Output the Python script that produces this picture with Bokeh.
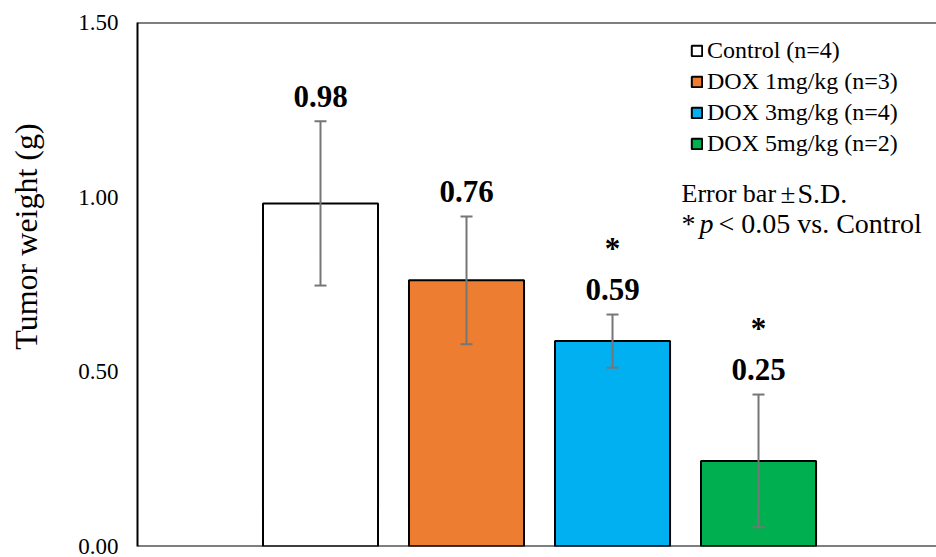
from bokeh.plotting import figure
from bokeh.models import (ColumnDataSource, Whisker, TeeHead, FixedTicker,
                          PrintfTickFormatter, Legend, LegendItem, Span, Label, Range1d)
from bokeh.core.properties import value
from bokeh.embed import file_html
from bokeh.resources import INLINE

# ---- data ----
groups = ["Control (n=4)", "DOX 1mg/kg (n=3)", "DOX 3mg/kg (n=4)", "DOX 5mg/kg (n=2)"]
means = [0.982, 0.762, 0.588, 0.245]
sds = [0.235, 0.183, 0.076, 0.190]
value_labels = ["0.98", "0.76", "0.59", "0.25"]
significance = ["", "", "*", "*"]
colors = ["#FFFFFF", "#ED7D31", "#00B0F0", "#00B050"]
y_ticks = [0.0, 0.5, 1.0, 1.5]
y_title = "Tumor weight (g)"

FONT = "Liberation Serif"
xs = list(range(1, len(groups) + 1))
upper = [m + s for m, s in zip(means, sds)]
lower = [m - s for m, s in zip(means, sds)]

src = ColumnDataSource(dict(x=xs, group=groups, mean=means, upper=upper, lower=lower,
                            color=colors, lab=value_labels, sig=significance))

p = figure(width=936, height=557, output_backend="svg", toolbar_location=None,
           x_range=Range1d(-0.2534, 5.219), y_range=Range1d(0, 1.5),
           min_border_left=137, min_border_top=22, min_border_bottom=11, min_border_right=0)
p.outline_line_color = None
p.grid.visible = False
p.xaxis.visible = False
p.background_fill_color = "white"
p.border_fill_color = "white"

ya = p.yaxis[0]
ya.ticker = FixedTicker(ticks=y_ticks)
ya.formatter = PrintfTickFormatter(format="%.2f")
ya.major_tick_in = 0
ya.major_tick_out = 0
ya.minor_tick_in = 0
ya.minor_tick_out = 0
ya.axis_line_color = "black"
ya.axis_line_width = 2
ya.major_label_standoff = 19
ya.major_label_text_font = FONT
ya.major_label_text_font_size = "23px"
ya.major_label_text_color = "black"
# leading no-break spaces lift the centred title above the axis middle, as in the original
ya.axis_label = "\u00a0" * 12 + y_title
ya.axis_label_text_font = FONT
ya.axis_label_text_font_size = "32px"
ya.axis_label_text_font_style = "normal"
ya.axis_label_text_color = "black"
ya.axis_label_standoff = 31

bars = p.vbar(x="x", top="mean", width=0.788, bottom=0, source=src,
              fill_color="color", line_color="black", line_width=2)

p.add_layout(Span(location=1.5, dimension="width", line_color="black", line_width=2))
p.add_layout(Span(location=0, dimension="width", line_color="black", line_width=2))

err_color = "#767676"
p.add_layout(Whisker(source=src, base="x", upper="upper", lower="lower", level="overlay",
                     line_color=err_color, line_width=2,
                     upper_head=TeeHead(size=12, line_color=err_color, line_width=2),
                     lower_head=TeeHead(size=12, line_color=err_color, line_width=2)))

p.text(x="x", y="upper", text="lab", source=src, y_offset=-25,
       text_font=value(FONT), text_font_size="31px", text_font_style="bold",
       text_align="center", text_baseline="alphabetic", text_color="black")
p.text(x="x", y="upper", text="sig", source=src, y_offset=-66,
       text_font=value(FONT), text_font_size="31px", text_font_style="bold",
       text_align="center", text_baseline="alphabetic", text_color="black")

items = [LegendItem(label=g, renderers=[bars], index=i) for i, g in enumerate(groups)]
legend = Legend(items=items, location=(553, 387), padding=0, margin=0, spacing=0,
                label_height=31, glyph_height=13, glyph_width=13, label_standoff=4,
                label_text_font=FONT, label_text_font_size="24px",
                label_text_color="black", border_line_color=None,
                background_fill_alpha=0)
p.add_layout(legend, "center")

note_kw = dict(x_units="screen", y_units="screen", text_font=FONT,
               text_color="black", text_baseline="middle")
p.add_layout(Label(x=544, y=353, text="Error bar", text_font_size="26px", **note_kw))
p.add_layout(Label(x=643, y=353, text="\u00b1", text_font_size="27px", **note_kw))
p.add_layout(Label(x=660, y=353, text="S.D.", text_font_size="28px", **note_kw))
p.add_layout(Label(x=544, y=323, text="*", text_font_size="28px", **note_kw))
p.add_layout(Label(x=562, y=323, text="p", text_font_style="italic",
                   text_font_size="28px", **note_kw))
p.add_layout(Label(x=581, y=323, text="< 0.05 vs. Control", text_font_size="28px", **note_kw))

open("out.html", "w").write(file_html(p, INLINE))
